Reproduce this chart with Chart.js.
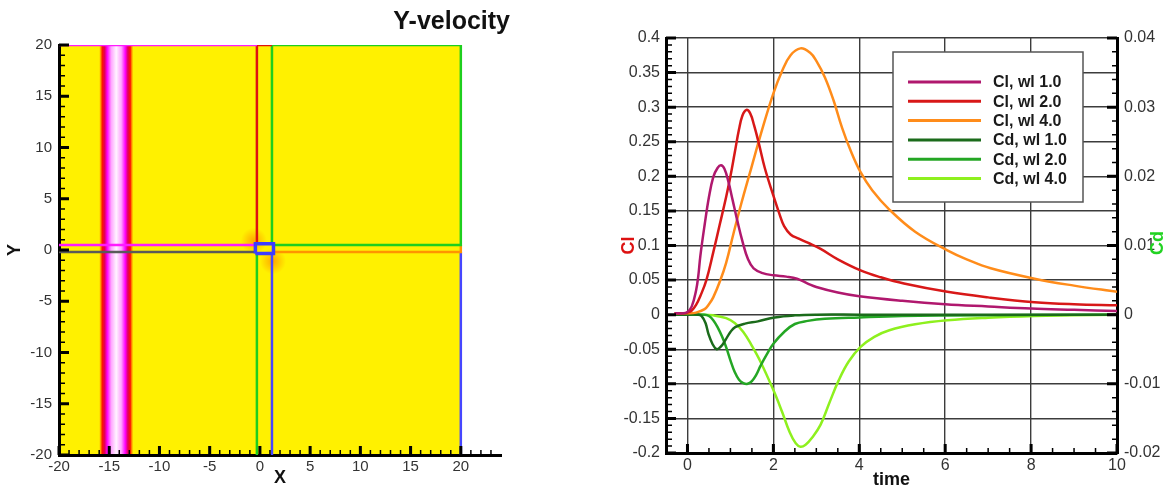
<!DOCTYPE html>
<html>
<head>
<meta charset="utf-8">
<script src="https://cdn.jsdelivr.net/npm/chart.js@4.4.1/dist/chart.umd.min.js"></script>
<style>
  html, body { margin: 0; padding: 0; background: #fff; }
  #wrap { position: relative; width: 1168px; height: 491px; overflow: hidden; }
  #field { position: absolute; left: 0; top: 0; }
  #forces { position: absolute; left: 540px; top: 0; }
</style>
</head>
<body>
<div id="wrap">
  <canvas id="field" width="520" height="491"></canvas>
  <canvas id="forces" width="628" height="491"></canvas>
</div>
<script>
// ---------------- Y-velocity field (left panel) ----------------
const fieldTicks = [-20, -15, -10, -5, 0, 5, 10, 15, 20];
const fieldTickLabels = ['-20', '-15', '-10', '-5', '0', '5', '10', '15', '20'];
const fieldX = [-20, 20];
const fieldY = [-20, 20];

// Vortex sheet: normalised Y-velocity level across x
const sheetX = [-16.0, -15.85, -15.7, -15.45, -15.2, -14.8, -14.3, -13.8, -13.4, -13.15, -12.9, -12.75, -12.6];
const sheetLevel = [0, 0.2, 0.35, 0.5, 0.65, 0.85, 1, 0.85, 0.65, 0.5, 0.35, 0.2, 0];

// Weak disturbances next to the body
const blobX = [-0.6, 1.3];
const blobY = [0.9, -1.1];
const blobR = [1.3, 1.3];
const blobLevel = [0.2, 0.2];

// Grid block boundaries
const bodyX = [-0.45, 1.35, 1.35, -0.45, -0.45];
const bodyY = [-0.35, -0.35, 0.62, 0.62, -0.35];
const magentaTopX = [-20, -0.3];
const magentaTopY = [20, 20];
const magentaMidX = [-20, -0.3];
const magentaMidY = [0.5, 0.5];
const redBlockX = [-0.3, -0.3, 1.2];
const redBlockY = [0.5, 20, 20];
const greenBlockX = [1.2, 1.2, 20, 20, 1.2];
const greenBlockY = [0.5, 20, 20, 0.5, 0.5];
const grayLineX = [-20, -0.3];
const grayLineY = [-0.2, -0.2];
const greenLowX = [-0.3, -0.3];
const greenLowY = [-0.2, -20];
const orangeBlockX = [1.2, 20, 20];
const orangeBlockY = [-0.2, -0.2, 0.5];
const blueInnerX = [1.2, 1.2];
const blueInnerY = [-0.2, -20];
const blueOuterX = [20, 20];
const blueOuterY = [-0.2, -20];

// ---------------- Lift / drag histories (right panel) ----------------
const timeTicks = [0, 2, 4, 6, 8, 10];
const timeTickLabels = ['0', '2', '4', '6', '8', '10'];
const clTicks = [-0.2, -0.15, -0.1, -0.05, 0, 0.05, 0.1, 0.15, 0.2, 0.25, 0.3, 0.35, 0.4];
const clTickLabels = ['-0.2', '-0.15', '-0.1', '-0.05', '0', '0.05', '0.1', '0.15', '0.2', '0.25', '0.3', '0.35', '0.4'];
const cdTicks = [-0.02, -0.01, 0, 0.01, 0.02, 0.03, 0.04];
const cdTickLabels = ['-0.02', '-0.01', '0', '0.01', '0.02', '0.03', '0.04'];

const clWl1Time = [-0.3, -0.1, 0, 0.1, 0.2, 0.25, 0.3, 0.4, 0.5, 0.6, 0.7, 0.78, 0.86, 0.95, 1.05, 1.16, 1.28, 1.41, 1.54, 1.75, 2.0, 2.3, 2.55, 2.8, 3.0, 3.5, 4.0, 5.0, 6.0, 7.0, 8.0, 9.0, 10.0];
const clWl1 = [0.002, 0.002, 0.004, 0.012, 0.035, 0.055, 0.085, 0.13, 0.17, 0.199, 0.212, 0.216, 0.211, 0.193, 0.166, 0.136, 0.106, 0.08, 0.067, 0.06, 0.057, 0.055, 0.052, 0.045, 0.04, 0.032, 0.0266, 0.02, 0.015, 0.0118, 0.0088, 0.007, 0.0053];

const clWl2Time = [-0.3, -0.1, 0, 0.1, 0.2, 0.3, 0.44, 0.6, 0.75, 0.9, 1.0, 1.1, 1.2, 1.28, 1.37, 1.46, 1.55, 1.66, 1.8, 2.0, 2.15, 2.25, 2.4, 2.59, 2.8, 3.1, 3.5, 4.03, 4.5, 5.04, 6.05, 7.0, 8.08, 9.0, 10.0];
const clWl2 = [0.002, 0.002, 0.003, 0.006, 0.014, 0.027, 0.05, 0.09, 0.13, 0.17, 0.2, 0.234, 0.268, 0.288, 0.296, 0.291, 0.274, 0.248, 0.212, 0.172, 0.144, 0.128, 0.116, 0.11, 0.104, 0.095, 0.08, 0.064, 0.054, 0.045, 0.033, 0.025, 0.018, 0.015, 0.0135];

const clWl4Time = [-0.3, 0, 0.2, 0.4, 0.5, 0.6, 0.76, 0.9, 1.07, 1.25, 1.49, 1.75, 2.0, 2.2, 2.4, 2.63, 2.85, 3.0, 3.2, 3.4, 3.6, 3.8, 4.03, 4.3, 4.7, 5.3, 6.05, 6.5, 7.06, 8.08, 9.0, 10.0];
const clWl4 = [0.002, 0.002, 0.003, 0.008, 0.015, 0.025, 0.049, 0.075, 0.117, 0.16, 0.213, 0.27, 0.32, 0.352, 0.375, 0.385, 0.379, 0.367, 0.343, 0.31, 0.27, 0.237, 0.206, 0.18, 0.152, 0.12, 0.093, 0.08, 0.067, 0.052, 0.042, 0.033];

const cdWl1Time = [-0.3, 0, 0.25, 0.33, 0.42, 0.49, 0.58, 0.68, 0.78, 0.88, 1.0, 1.11, 1.34, 1.64, 2.03, 2.5, 3.0, 4.0, 6.0, 8.0, 10.0];
const cdWl1 = [0, 0, 0, -0.0002, -0.0012, -0.0028, -0.0042, -0.005, -0.0046, -0.0037, -0.0025, -0.0018, -0.0013, -0.00097, -0.0004, -0.0001, 0, 0, 0, 0, 0];

const cdWl2Time = [-0.3, 0, 0.4, 0.5, 0.6, 0.7, 0.8, 0.9, 1.0, 1.1, 1.2, 1.3, 1.4, 1.5, 1.6, 1.7, 1.85, 2.0, 2.25, 2.5, 2.8, 3.2, 4.0, 5.0, 6.0, 8.0, 10.0];
const cdWl2 = [0, 0, 0, -0.0002, -0.0008, -0.0018, -0.0031, -0.0047, -0.0066, -0.0083, -0.0094, -0.0099, -0.01, -0.0096, -0.0087, -0.0074, -0.0057, -0.0042, -0.0025, -0.00135, -0.0009, -0.0006, -0.0004, -0.0002, -0.00012, -0.00005, 0];

const cdWl4Time = [-0.3, 0, 0.3, 0.6, 0.9, 1.1, 1.3, 1.5, 1.7, 2.0, 2.2, 2.38, 2.52, 2.63, 2.75, 2.9, 3.1, 3.3, 3.52, 3.75, 4.03, 4.35, 4.7, 5.3, 6.05, 7.0, 8.08, 9.0, 10.0];
const cdWl4 = [0, 0, 0, -0.0001, -0.0005, -0.0012, -0.0025, -0.0045, -0.0068, -0.0109, -0.014, -0.017, -0.0186, -0.0191, -0.0188, -0.0178, -0.0159, -0.0128, -0.0095, -0.0068, -0.00465, -0.0032, -0.00225, -0.0014, -0.00082, -0.00045, -0.0002, -0.0001, 0];

// ---------------- helpers ----------------
const FONT = '"Liberation Sans", Arial, Helvetica, sans-serif';
const pts = (xs, ys) => xs.map((v, i) => ({ x: v, y: ys[i] }));
const steps = (a, b, s) => {
  const out = [];
  const n = Math.round((b - a) / s);
  for (let i = 0; i <= n; i++) out.push(+(a + i * s).toFixed(6));
  return out;
};

// Colour map for the contour levels: ambient yellow -> orange -> red -> magenta -> white
const cmap = [
  [0.0, [255, 241, 0]],
  [0.2, [255, 150, 0]],
  [0.35, [255, 20, 0]],
  [0.5, [226, 0, 92]],
  [0.65, [255, 0, 255]],
  [0.85, [255, 165, 255]],
  [1.0, [255, 244, 255]]
];
function levelRGB(t) {
  for (let i = 1; i < cmap.length; i++) {
    if (t <= cmap[i][0]) {
      const [t0, c0] = cmap[i - 1], [t1, c1] = cmap[i];
      const f = (t - t0) / (t1 - t0);
      return c0.map((c, k) => Math.round(c + (c1[k] - c) * f));
    }
  }
  return cmap[cmap.length - 1][1];
}
const levelColor = (t, a = 1) => { const c = levelRGB(t); return `rgba(${c[0]},${c[1]},${c[2]},${a})`; };

// Contour fill painted underneath the axes and block lines
const contourField = {
  id: 'contourField',
  beforeDraw(chart) {
    const { ctx, scales: { x, y } } = chart;
    const x0 = x.getPixelForValue(fieldX[0]), x1 = x.getPixelForValue(fieldX[1]);
    const yT = y.getPixelForValue(fieldY[1]), yB = y.getPixelForValue(fieldY[0]);
    ctx.save();
    ctx.beginPath();
    ctx.rect(x0, yT, x1 - x0, yB - yT);
    ctx.clip();
    ctx.fillStyle = levelColor(0);
    ctx.fillRect(x0, yT, x1 - x0, yB - yT);
    blobX.forEach((bx, i) => {
      const cx = x.getPixelForValue(bx), cy = y.getPixelForValue(blobY[i]);
      const r = Math.abs(x.getPixelForValue(bx + blobR[i]) - cx);
      const g = ctx.createRadialGradient(cx, cy, 0, cx, cy, r);
      g.addColorStop(0, levelColor(blobLevel[i], 0.8));
      g.addColorStop(1, levelColor(blobLevel[i], 0));
      ctx.fillStyle = g;
      ctx.fillRect(cx - r, cy - r, 2 * r, 2 * r);
    });
    const s0 = x.getPixelForValue(sheetX[0]);
    const s1 = x.getPixelForValue(sheetX[sheetX.length - 1]);
    const grad = ctx.createLinearGradient(s0, 0, s1, 0);
    sheetX.forEach((v, i) => grad.addColorStop((x.getPixelForValue(v) - s0) / (s1 - s0), levelColor(sheetLevel[i])));
    ctx.fillStyle = grad;
    ctx.fillRect(s0, yT, s1 - s0, yB - yT);
    ctx.restore();
  }
};

// Tick marks drawn on the inside of the frame
const innerTicks = {
  id: 'innerTicks',
  afterDraw(chart, args, opts) {
    const { ctx, chartArea: a } = chart;
    ctx.save();
    ctx.strokeStyle = '#000';
    ctx.lineCap = 'butt';
    (opts.axes || []).forEach(spec => {
      const sc = chart.scales[spec.id];
      const draw = (vals, len, w) => {
        ctx.lineWidth = w;
        ctx.beginPath();
        vals.forEach(v => {
          const p = sc.getPixelForValue(v);
          if (spec.side === 'bottom') { ctx.moveTo(p, a.bottom); ctx.lineTo(p, a.bottom - len); }
          else if (spec.side === 'left') { ctx.moveTo(a.left, p); ctx.lineTo(a.left + len, p); }
          else { ctx.moveTo(a.right, p); ctx.lineTo(a.right - len, p); }
        });
        ctx.stroke();
      };
      draw(spec.minor, spec.minorLen, 1.5);
      draw(spec.major, spec.majorLen, 3);
    });
    ctx.restore();
  }
};

// Free-standing text (panel title, rotated right-axis title)
const freeText = {
  id: 'freeText',
  afterDraw(chart, args, opts) {
    const { ctx, chartArea: a } = chart;
    (opts.items || []).forEach(it => {
      ctx.save();
      ctx.font = it.font;
      ctx.fillStyle = it.color;
      ctx.textAlign = it.align || 'center';
      ctx.textBaseline = 'middle';
      const px = (it.fromRight ? a.right : a.left) + it.dx;
      ctx.translate(px, it.y);
      if (it.rotate) ctx.rotate(it.rotate);
      ctx.fillText(it.text, 0, 0);
      ctx.restore();
    });
  }
};

// Boxed legend inside the plot area
const boxLegend = {
  id: 'boxLegend',
  afterDatasetsDraw(chart, args, o) {
    const { ctx, chartArea: a } = chart;
    const x0 = a.left + o.dx, y0 = a.top + o.dy;
    ctx.save();
    ctx.fillStyle = '#fff';
    ctx.fillRect(x0, y0, o.width, o.height);
    ctx.strokeStyle = '#555';
    ctx.lineWidth = 1.5;
    ctx.strokeRect(x0, y0, o.width, o.height);
    ctx.font = o.font;
    ctx.textBaseline = 'middle';
    ctx.textAlign = 'left';
    chart.data.datasets.forEach((ds, i) => {
      const yy = y0 + o.firstRow + i * o.rowStep;
      ctx.strokeStyle = ds.borderColor;
      ctx.lineWidth = 3;
      ctx.beginPath();
      ctx.moveTo(x0 + o.sampleStart, yy);
      ctx.lineTo(x0 + o.sampleEnd, yy);
      ctx.stroke();
      ctx.fillStyle = '#1a1a1a';
      ctx.fillText(ds.label, x0 + o.textStart, yy + 1);
    });
    ctx.restore();
  }
};

const tickFont15 = { family: FONT, size: 15 };
const tickFont16 = { family: FONT, size: 16 };
const labelFrom = (vals, labels) => (v) => { const i = vals.indexOf(v); return i < 0 ? '' : labels[i]; };

// ---------------- left chart ----------------
const blockLine = (label, xs, ys, color, width) => ({
  label, data: pts(xs, ys), borderColor: color, backgroundColor: color,
  showLine: true, borderWidth: width, pointRadius: 0, tension: 0, fill: false
});

new Chart(document.getElementById('field'), {
  type: 'scatter',
  data: {
    datasets: [
      blockLine('body', bodyX, bodyY, '#3c3cff', 3.5),
      blockLine('block 1 top', magentaTopX, magentaTopY, '#ff1aff', 2.5),
      blockLine('block 1 bottom', magentaMidX, magentaMidY, '#ff1aff', 2.5),
      blockLine('block 2', redBlockX, redBlockY, '#dd1111', 2.5),
      blockLine('block 3', greenBlockX, greenBlockY, '#1ecf1e', 2.5),
      blockLine('block 4', grayLineX, grayLineY, '#5a5a5a', 2.5),
      blockLine('block 5', greenLowX, greenLowY, '#1ecf1e', 2.5),
      blockLine('block 6', orangeBlockX, orangeBlockY, '#ff9400', 2.5),
      blockLine('block 7', blueInnerX, blueInnerY, '#4646ff', 2.5),
      blockLine('block 8', blueOuterX, blueOuterY, '#4646ff', 2.5)
    ]
  },
  options: {
    responsive: false,
    animation: false,
    devicePixelRatio: 1,
    layout: { padding: { top: 45, right: 19, left: 0, bottom: 0 } },
    plugins: {
      legend: { display: false },
      tooltip: { enabled: false },
      innerTicks: {
        axes: [
          { id: 'x', side: 'bottom', major: fieldTicks, minor: steps(-20, 23, 1), majorLen: 9, minorLen: 5 },
          { id: 'y', side: 'left', major: fieldTicks, minor: steps(-20, 20, 1), majorLen: 10, minorLen: 6 }
        ]
      },
      freeText: {
        items: [
          { text: 'Y-velocity', font: `bold 25px ${FONT}`, color: '#111', align: 'right', fromRight: true, dx: 9, y: 22 }
        ]
      }
    },
    scales: {
      x: {
        type: 'linear', min: -20, max: 24,
        afterBuildTicks: s => { s.ticks = fieldTicks.map(v => ({ value: v })); },
        afterFit: s => { s.height = 36; },
        grid: { display: false, drawTicks: false },
        border: { display: true, color: '#000', width: 3 },
        ticks: { font: tickFont15, color: '#333', padding: 3, autoSkip: false, maxRotation: 0, callback: labelFrom(fieldTicks, fieldTickLabels) },
        title: { display: true, text: 'X', font: { family: FONT, size: 18, weight: 'bold' }, color: '#111', padding: { top: 0, bottom: 2 } }
      },
      y: {
        type: 'linear', min: -20, max: 20,
        afterBuildTicks: s => { s.ticks = fieldTicks.map(v => ({ value: v })); },
        afterFit: s => { s.width = 59; },
        grid: { display: false, drawTicks: false },
        border: { display: true, color: '#000', width: 3 },
        ticks: { font: tickFont15, color: '#333', padding: 7, autoSkip: false, callback: labelFrom(fieldTicks, fieldTickLabels) },
        title: { display: true, text: 'Y', font: { family: FONT, size: 18, weight: 'bold' }, color: '#111', padding: { top: 4, bottom: 0 } }
      }
    }
  },
  plugins: [contourField, innerTicks, freeText]
});

// ---------------- right chart ----------------
const series = (label, xs, ys, color, axis) => ({
  label, data: pts(xs, ys), borderColor: color, backgroundColor: color,
  yAxisID: axis, borderWidth: 2.5, pointRadius: 0, fill: false, tension: 0.4
});

new Chart(document.getElementById('forces'), {
  type: 'line',
  data: {
    datasets: [
      series('Cl, wl 1.0', clWl1Time, clWl1, '#b0186e', 'y'),
      series('Cl, wl 2.0', clWl2Time, clWl2, '#d81818', 'y'),
      series('Cl, wl 4.0', clWl4Time, clWl4, '#ff8c1a', 'y'),
      series('Cd, wl 1.0', cdWl1Time, cdWl1, '#1b6b1b', 'y2'),
      series('Cd, wl 2.0', cdWl2Time, cdWl2, '#24a624', 'y2'),
      series('Cd, wl 4.0', cdWl4Time, cdWl4, '#8ef01e', 'y2')
    ]
  },
  options: {
    responsive: false,
    animation: false,
    devicePixelRatio: 1,
    layout: { padding: { top: 38, right: 0, left: 78, bottom: 0 } },
    plugins: {
      legend: { display: false },
      tooltip: { enabled: false },
      innerTicks: {
        axes: [
          { id: 'x', side: 'bottom', major: timeTicks, minor: steps(-0.5, 10, 0.5), majorLen: 9, minorLen: 5 },
          { id: 'y', side: 'left', major: clTicks, minor: steps(-0.2, 0.4, 0.01), majorLen: 10, minorLen: 6 },
          { id: 'y2', side: 'right', major: cdTicks, minor: steps(-0.02, 0.04, 0.002), majorLen: 10, minorLen: 5 }
        ]
      },
      boxLegend: {
        dx: 227, dy: 14, width: 190, height: 150,
        firstRow: 30, rowStep: 19.3,
        sampleStart: 15, sampleEnd: 88, textStart: 100,
        font: `bold 16px ${FONT}`
      },
      freeText: {
        items: [
          { text: 'Cd', font: `bold 18px ${FONT}`, color: '#22d322', fromRight: true, dx: 41, y: 243, rotate: -Math.PI / 2 }
        ]
      }
    },
    scales: {
      x: {
        type: 'linear', min: -0.5, max: 10,
        afterBuildTicks: s => { s.ticks = timeTicks.map(v => ({ value: v })); },
        afterFit: s => { s.height = 38; },
        grid: { display: true, drawTicks: false, color: '#3c3c3c', lineWidth: 1.4 },
        border: { display: true, color: '#000', width: 3 },
        ticks: { font: tickFont16, color: '#333', padding: 3, autoSkip: false, maxRotation: 0, callback: labelFrom(timeTicks, timeTickLabels) },
        title: { display: true, text: 'time', font: { family: FONT, size: 18, weight: 'bold' }, color: '#111', padding: { top: 0, bottom: 0 } }
      },
      y: {
        type: 'linear', position: 'left', min: -0.2, max: 0.4,
        afterBuildTicks: s => { s.ticks = clTicks.map(v => ({ value: v })); },
        afterFit: s => { s.width = 48; },
        grid: { display: true, drawTicks: false, color: '#3c3c3c', lineWidth: 1.4 },
        border: { display: true, color: '#000', width: 3 },
        ticks: { font: tickFont16, color: '#333', padding: 6, autoSkip: false, callback: labelFrom(clTicks, clTickLabels) },
        title: { display: true, text: 'Cl', font: { family: FONT, size: 18, weight: 'bold' }, color: '#dd1111', padding: { top: 0, bottom: 0 } }
      },
      y2: {
        type: 'linear', position: 'right', min: -0.02, max: 0.04,
        afterBuildTicks: s => { s.ticks = cdTicks.map(v => ({ value: v })); },
        afterFit: s => { s.width = 51; },
        grid: { display: false, drawTicks: false, drawOnChartArea: false },
        border: { display: true, color: '#000', width: 3 },
        ticks: { font: tickFont16, color: '#333', padding: 7, autoSkip: false, callback: labelFrom(cdTicks, cdTickLabels) }
      }
    }
  },
  plugins: [innerTicks, boxLegend, freeText]
});
</script>
</body>
</html>
